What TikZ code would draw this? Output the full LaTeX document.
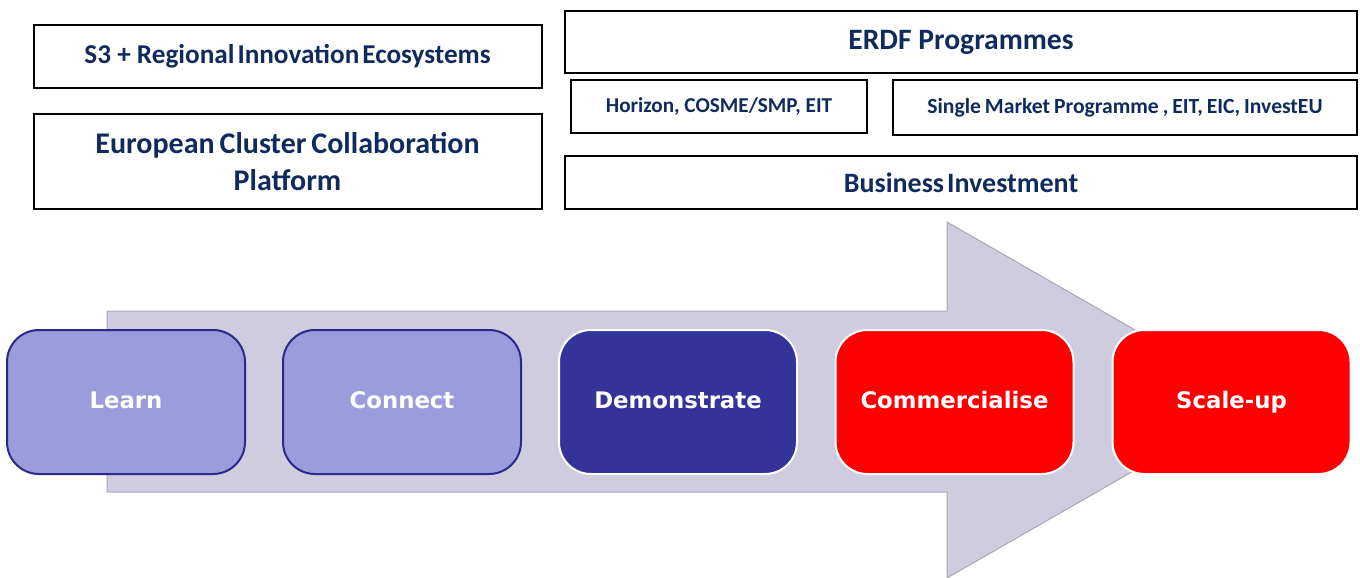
\documentclass[tikz,border=0pt]{standalone}
\usepackage{fontspec}
\setmainfont{Carlito}
\newfontfamily\boxfont{DejaVu Sans}
\definecolor{navytext}{HTML}{0F2B5E}
\definecolor{lightpurple}{HTML}{9C9CDD}
\definecolor{darkborder}{HTML}{2A2A88}
\definecolor{darkblue}{HTML}{333399}
\definecolor{arrowfill}{HTML}{CECCDE}
\definecolor{arrowedge}{HTML}{A8A8B4}
\newcommand{\tightsp}[1]{\spaceskip=#1\relax}
\begin{document}
\begin{tikzpicture}[x=0.5pt,y=-0.5pt,
  txtbox/.style={draw=black,line width=1pt,fill=white,inner sep=0pt,align=center,
    text=navytext,font=\bfseries},
  stagebox/.style={rounded corners=16pt,inner sep=0pt,minimum width=119pt,minimum height=72pt,
    text height=8.5pt,text depth=2.5pt,
    text=white,font=\boxfont\bfseries\fontsize{11.4}{13}\selectfont,line width=1pt},
  light/.style={stagebox,fill=lightpurple,draw=darkborder},
  dark/.style={stagebox,fill=darkblue,draw=white},
  redbox/.style={stagebox,fill=red,draw=white}
]
\useasboundingbox (0,0) rectangle (1360,578);
% arrow
\fill[arrowfill,draw=arrowedge,line width=0.5pt]
  (107,311) -- (947,311) -- (947,222) -- (1257,400) -- (947,578) -- (947,492) -- (107,492) -- cycle;
% top boxes
\node[txtbox,minimum width=254pt,minimum height=31.5pt,font=\bfseries\fontsize{13.6}{16}\selectfont] (s3) at (287.5,56.5) {S3 + Regional\hspace{1.5pt}Innovation\hspace{1.5pt}Ecosystems};
\node[txtbox,minimum width=254pt,minimum height=47.5pt,font=\bfseries\fontsize{15}{18.5}\selectfont] (eccp) at (287.5,161.5) {\tightsp{2.5pt}European Cluster Collaboration\\Platform};
\node[txtbox,minimum width=396pt,minimum height=31pt,font=\bfseries\fontsize{14.8}{17}\selectfont] (erdf) at (961,42) {ERDF Programmes};
\node[txtbox,minimum width=148pt,minimum height=26.5pt,font=\bfseries\fontsize{10.6}{12}\selectfont] (hor) at (719,106.5) {Horizon,\ COSME/SMP, EIT};
\node[txtbox,minimum width=232pt,minimum height=27.5pt,font=\bfseries\fontsize{10.8}{12}\selectfont] (smp) at (1125,107.5) {\tightsp{2pt}Single Market Programme , EIT, EIC, InvestEU};
\node[txtbox,minimum width=396pt,minimum height=26.5pt,font=\bfseries\fontsize{14}{16}\selectfont] (bi) at (961,182.5) {\tightsp{1.5pt}Business Investment};
% stages
\node[light] (learn) at (126,402) {Learn};
\node[light] (connect) at (402,402) {Connect};
\node[dark] (demo) at (678,402) {Demonstrate};
\node[redbox] (comm) at (954.5,402) {Commercialise};
\node[redbox] (scale) at (1231.5,402) {Scale-up};
\end{tikzpicture}
\end{document}
